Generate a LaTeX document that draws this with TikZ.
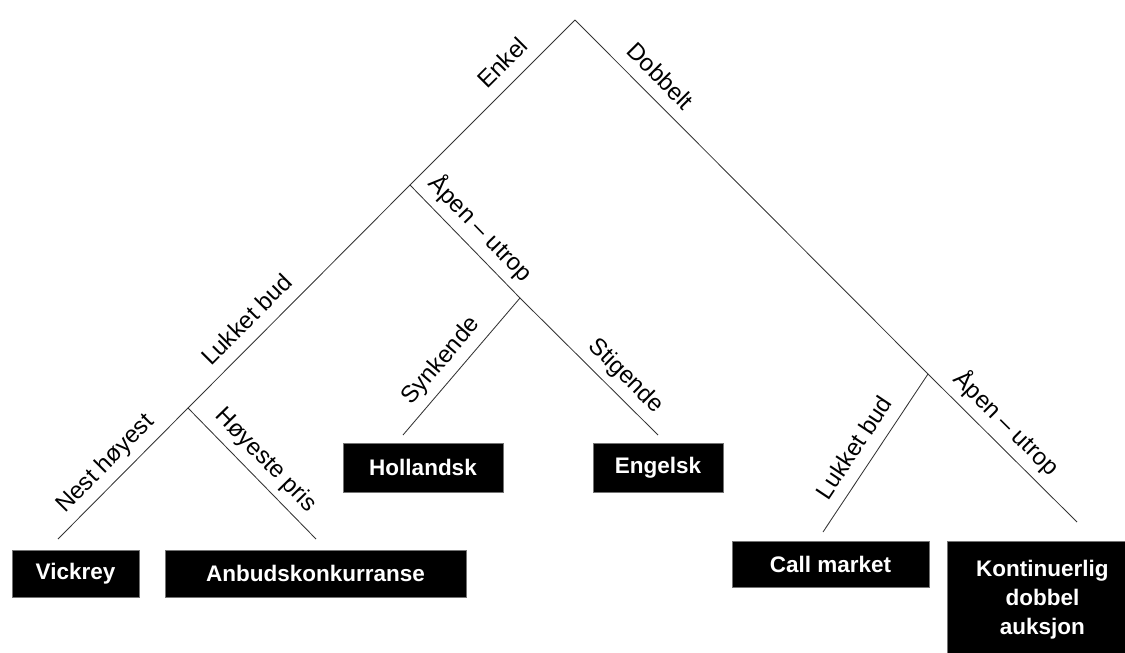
\documentclass[tikz,border=0pt]{standalone}
\usepackage{fontspec}
\setmainfont{Liberation Sans}
\begin{document}
\begin{tikzpicture}[x=0.025cm, y=-0.025cm,
  branch/.style={draw=black!80, line width=0.6pt},
  lbl/.style={sloped, anchor=base, yshift=9pt, inner sep=0pt, font=\fontsize{17}{20}\selectfont},
  leaf/.style={fill=black, draw=black!55, line width=0.6pt, text=white, inner sep=0pt, font=\fontsize{16}{20.5}\selectfont\bfseries}]
\useasboundingbox (0,0) rectangle (1125,652);
% Junctions
\coordinate (root) at (575,20);
\coordinate (enkelJ) at (410,185);
\coordinate (lukketJ) at (188,408);
\coordinate (apenJ) at (520,298);
\coordinate (dobbeltJ) at (928,374);
% Line ends
\coordinate (nestEnd) at (58,539);
\coordinate (hoyEnd) at (316,539);
\coordinate (synkEnd) at (403,435);
\coordinate (stigEnd) at (658,435);
\coordinate (callEnd) at (823,532);
\coordinate (kontEnd) at (1077,522);
% Nodes
\node[leaf, minimum width=3.175cm, minimum height=1.175cm] (vickrey) at (75.5,573.5) {Vickrey};
\node[leaf, minimum width=7.525cm, minimum height=1.175cm] (anbud) at (315.5,573.5) {Anbudskonkurranse};
\node[leaf, minimum width=4cm, minimum height=1.225cm] (hollandsk) at (423,467.5) {Hollandsk};
\node[leaf, minimum width=3.25cm, minimum height=1.225cm] (engelsk) at (658,467.5) {Engelsk};
\node[leaf, minimum width=4.925cm, minimum height=1.15cm] (callmarket) at (830.5,564) {Call market};
\node[leaf, anchor=north west, minimum width=4.75cm, minimum height=2.9cm, align=center] (kontinuerlig) at (947,541) {Kontinuerlig\\dobbel\\auksjon};
% Lines
\draw[branch] (root) -- node[lbl, pos=0.35] (enkel) {Enkel} (enkelJ);
\draw[branch] (root) -- node[lbl, pos=0.2] (dobbelt) {Dobbelt} (dobbeltJ);
\draw[branch] (enkelJ) -- node[lbl, pos=0.67] (lukket) {Lukket bud} (lukketJ);
\draw[branch] (enkelJ) -- node[lbl, pos=0.51] (apen) {Åpen – utrop} (apenJ);
\draw[branch] (apenJ) -- node[lbl, pos=0.55] (synkende) {Synkende} (synkEnd);
\draw[branch] (apenJ) -- node[lbl, pos=0.67] (stigende) {Stigende} (stigEnd);
\draw[branch] (lukketJ) -- node[lbl, pos=0.53] (nest) {Nest høyest} (nestEnd);
\draw[branch] (lukketJ) -- node[lbl, pos=0.5] (hoyeste) {Høyeste pris} (hoyEnd);
\draw[branch] (dobbeltJ) -- node[lbl, pos=0.54] (lukket2) {Lukket bud} (callEnd);
\draw[branch] (dobbeltJ) -- node[lbl, pos=0.43] (apen2) {Åpen – utrop} (kontEnd);
\end{tikzpicture}
\end{document}
